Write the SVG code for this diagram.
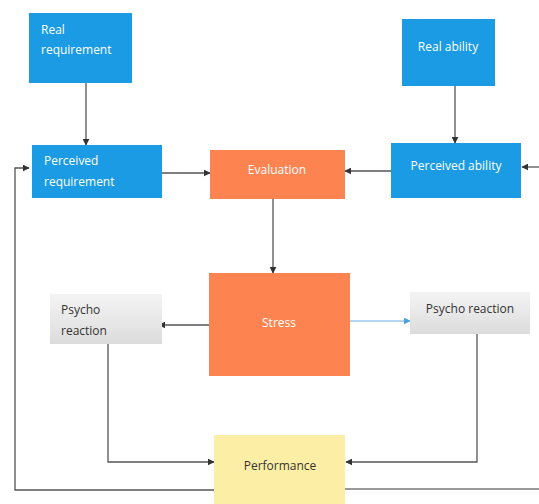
<svg xmlns="http://www.w3.org/2000/svg" width="539" height="504" viewBox="0 0 539 504">
<defs>
<marker id="ah" viewBox="0 0 10 10" refX="9" refY="5" markerWidth="7" markerHeight="7" orient="auto" markerUnits="userSpaceOnUse"><path d="M0,0 L10,5 L0,10 z" fill="#333"/></marker>
<marker id="ahb" viewBox="0 0 10 10" refX="9" refY="5" markerWidth="7" markerHeight="7" orient="auto" markerUnits="userSpaceOnUse"><path d="M0,0 L10,5 L0,10 z" fill="#4a9fe0"/></marker>
<linearGradient id="gray" x1="0" y1="0" x2="0" y2="1"><stop offset="0" stop-color="#f4f4f4"/><stop offset="1" stop-color="#dcdcdc"/></linearGradient>
</defs>
<style>
.blue{fill:#1a9be3;}
.orange{fill:#fd8450;}
.gray{fill:url(#gray);}
.yellow{fill:#fdeea6;}
.wt{font-family:"Open Sans","Liberation Sans",sans-serif;font-size:12px;fill:#ffffff;}
.dt{font-family:"Open Sans","Liberation Sans",sans-serif;font-size:12px;fill:#333333;}
.c{fill:none;stroke:#555;stroke-width:1.3;marker-end:url(#ah);}
.cn{fill:none;stroke:#777;stroke-width:1.3;}
</style>
<rect width="539" height="504" fill="#ffffff"/>
<g id="connectors">
<path class="c" d="M86,83 L86,145"/>
<path class="c" d="M455,86 L455,143"/>
<path class="c" d="M162,173 L210,173"/>
<path class="c" d="M391,171 L345,171"/>
<path class="c" d="M539,167 L522,167"/>
<path class="c" d="M273,199 L273,273"/>
<path class="c" d="M209,325 L159,325"/>
<path style="fill:none;stroke:#9cc8ee;stroke-width:1.3;marker-end:url(#ahb)" d="M350,321 L410,321"/>
<path class="c" d="M108,344 L108,462 L214,462"/>
<path class="c" d="M477,334 L477,462 L346,462"/>
<path class="cn" d="M345,489 L539,489"/>
<path class="c" d="M214,490 L15,490 L15,168 L29,168"/>
</g>
<g id="real-requirement"><rect class="blue" x="29" y="13" width="103" height="70"/><text class="wt" x="41" y="34">Real</text><text class="wt" x="41" y="54">requirement</text></g>
<g id="real-ability"><rect class="blue" x="402" y="19" width="93" height="67"/><text class="wt" x="448" y="51" text-anchor="middle">Real ability</text></g>
<g id="perceived-requirement"><rect class="blue" x="32" y="145" width="130" height="53"/><text class="wt" x="44" y="165">Perceived</text><text class="wt" x="44" y="186">requirement</text></g>
<g id="evaluation"><rect class="orange" x="210" y="150" width="135" height="49"/><text class="wt" x="277" y="174" text-anchor="middle">Evaluation</text></g>
<g id="perceived-ability"><rect class="blue" x="391" y="143" width="130" height="55"/><text class="wt" x="456" y="170" text-anchor="middle">Perceived ability</text></g>
<g id="stress"><rect class="orange" x="209" y="273" width="141" height="103"/><text class="wt" x="279" y="327" text-anchor="middle">Stress</text></g>
<g id="psycho-reaction-left"><rect class="gray" x="50" y="294" width="112" height="50"/><text class="dt" x="61" y="314">Psycho</text><text class="dt" x="61" y="335">reaction</text></g>
<g id="psycho-reaction-right"><rect class="gray" x="410" y="292" width="120" height="42"/><text class="dt" x="470" y="313" text-anchor="middle">Psycho reaction</text></g>
<g id="performance"><rect class="yellow" x="214" y="435" width="131" height="72"/><text class="dt" x="280" y="470" text-anchor="middle">Performance</text></g>
</svg>
